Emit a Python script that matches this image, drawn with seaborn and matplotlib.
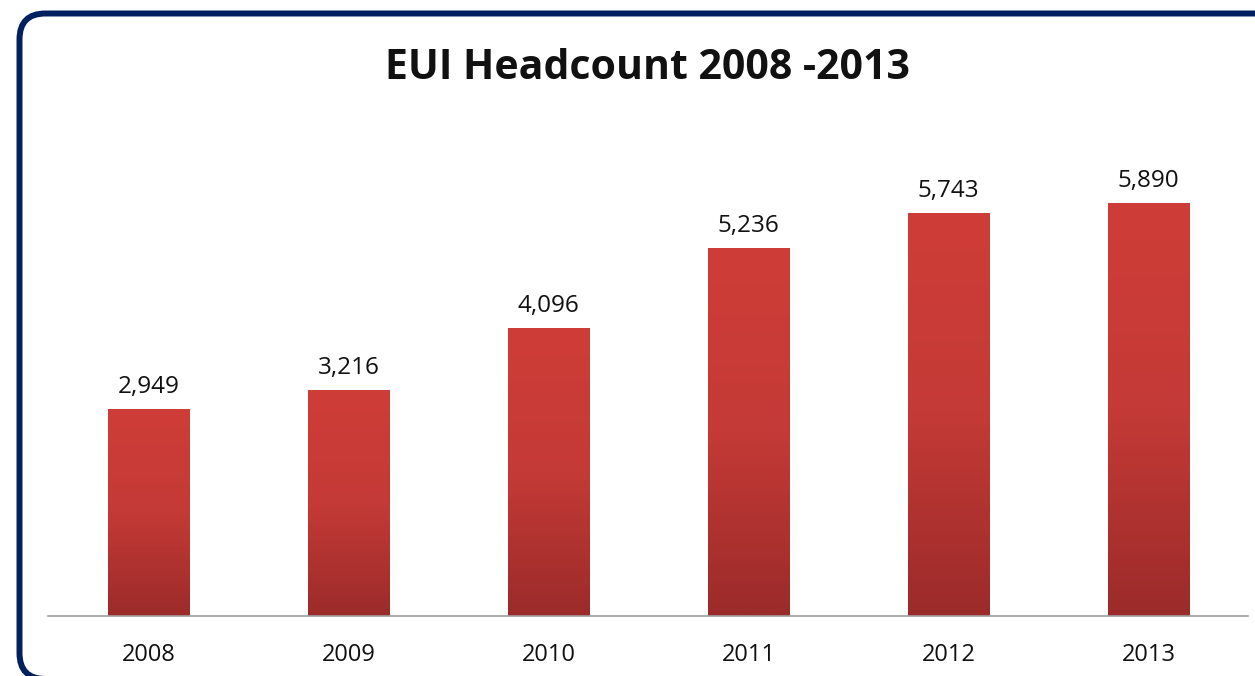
import numpy as np
import matplotlib
matplotlib.use('Agg')
import matplotlib.pyplot as plt
import matplotlib.transforms as mtransforms
from matplotlib.patches import FancyBboxPatch
import seaborn as sns

# chart data
years = ['2008', '2009', '2010', '2011', '2012', '2013']
headcount = [2949, 3216, 4096, 5236, 5743, 5890]

sns.set_theme(style='white')
plt.rcParams['font.family'] = ['Open Sans', 'DejaVu Sans']

fig = plt.figure(figsize=(12.55, 6.76), dpi=100)
ax = fig.add_axes([0.0386, 0.0888, 0.9562, 0.7269])

sns.barplot(x=years, y=headcount, color='#C0392F', width=0.405, ax=ax)

# vertical red gradient on each bar
grad = np.linspace(0, 1, 256).reshape(-1, 1)
cmap = matplotlib.colors.LinearSegmentedColormap.from_list('bar', ['#9B2B2A', '#C43A36', '#CF3D38'])
for p in ax.patches:
    x0, w, h = p.get_x(), p.get_width(), p.get_height()
    im = ax.imshow(grad, extent=[x0, x0 + w, 0, h], origin='lower', cmap=cmap,
                   aspect='auto', zorder=p.get_zorder() + 0.1)
    im.set_clip_path(p)
    ax.annotate(f'{int(h):,}', (x0 + w / 2, h), xytext=(0, 11.5), textcoords='offset points',
                ha='center', va='baseline', fontsize=17.5, color='#111111')

ax.set_xlim(-0.5, 5.5)
ax.set_ylim(0, 7000)
ax.set_yticks([])
for s in ['left', 'right', 'top']:
    ax.spines[s].set_visible(False)
ax.spines['bottom'].set_color('#A0A0A0')
ax.spines['bottom'].set_linewidth(1.2)
ax.tick_params(axis='x', length=0, pad=19.5, labelsize=17, labelcolor='#111111')
ax.set_xlabel('')
ax.set_ylabel('')

fig.text(0.5163, 0.898, 'EUI Headcount 2008 -2013', ha='center', va='center',
         fontsize=29.5, fontweight='bold', color='#111111')

# rounded navy frame (runs off the right and bottom edge)
frame = FancyBboxPatch((19.5, -3), 1300, 665.5, boxstyle='round,pad=0,rounding_size=26',
                       facecolor='none', edgecolor='#002060', linewidth=4.3,
                       transform=mtransforms.IdentityTransform())
fig.add_artist(frame)

fig.savefig('out.png', dpi=100)
